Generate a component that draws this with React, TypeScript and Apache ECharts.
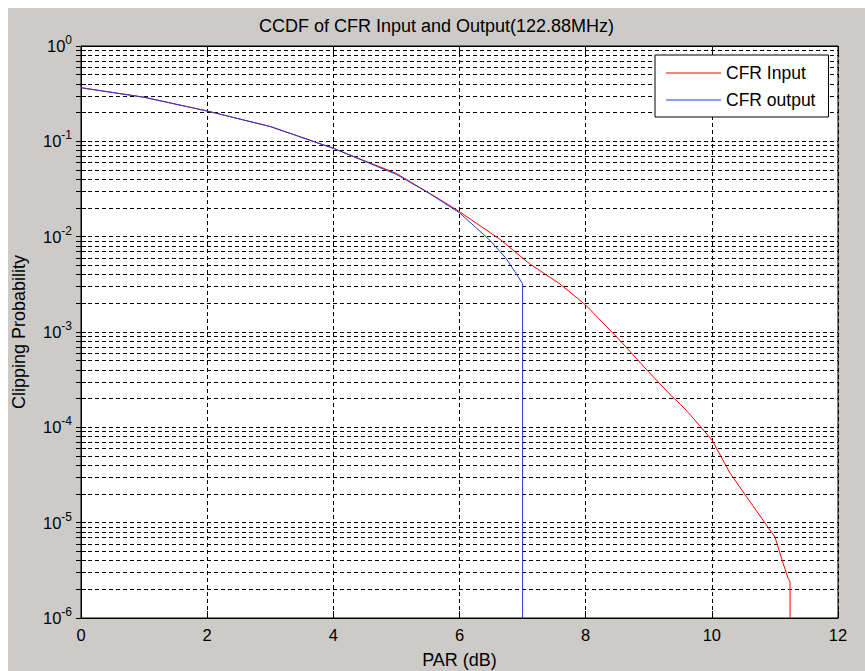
import React, { useEffect, useRef } from "react";
import * as echarts from "echarts";

// PAR (dB) vs clipping probability
const inputPAR = [0, 1, 2, 2.68, 3, 4, 5, 5.69, 6, 6.64, 7.11, 7.59, 8, 8.54, 8.97, 9.34, 9.5, 9.63, 10, 10.29, 10.55, 10.92, 11.0, 11.13, 11.21, 11.24, 11.24];
const inputProb = [0.365, 0.29, 0.208, 0.161, 0.143, 0.0845, 0.046, 0.0245, 0.0183, 0.0094, 0.0052, 0.0032, 0.00192, 8.2e-4, 4.0e-4, 2.2e-4, 1.75e-4, 1.42e-4, 7.4e-5, 3.3e-5, 1.87e-5, 8.4e-6, 7.1e-6, 3.75e-6, 2.6e-6, 2.4e-6, 1e-6];

const outputPAR = [0, 1, 2, 3, 4, 5, 5.5, 6, 6.48, 6.74, 6.93, 7.0, 7.0];
const outputProb = [0.365, 0.29, 0.208, 0.143, 0.0845, 0.045, 0.029, 0.0178, 0.0092, 0.0059, 0.0038, 0.0032, 1e-6];

const seriesNames = ["CFR Input", "CFR output"];
const xTicks = [0, 2, 4, 6, 8, 10, 12];
const yMajor = [1e-6, 1e-5, 1e-4, 1e-3, 1e-2, 1e-1, 1];
const yMinorMultipliers = [2, 3, 4, 5, 6, 7, 8, 9];

const yTickValues: number[] = [];
yMajor.forEach((m, i) => {
  yTickValues.push(m);
  if (i < yMajor.length - 1) yMinorMultipliers.forEach((k) => yTickValues.push(k * m));
});

const FONT = "'Liberation Sans', Arial, sans-serif";
const RED = "#ff0000";
const BLUE = "#1f3fd0";

export default function App() {
  const ref = useRef<HTMLDivElement>(null);
  useEffect(() => {
    const chart = echarts.init(ref.current!, null, { renderer: "svg" });
    const dash = { type: [4, 3] as any, color: "#000", width: 1 };
    const yLabel = {
      customValues: yMajor,
      margin: 9,
      formatter: (v: number) => `{b|10}{s|${Math.round(Math.log10(v))}}`,
      rich: {
        b: { fontSize: 16.5, color: "#000", fontFamily: FONT },
        s: { fontSize: 12, color: "#000", fontFamily: FONT, padding: [0, 0, 12, 0] },
      },
    };
    chart.setOption({
      animation: false,
      backgroundColor: "#cdcbc8",
      textStyle: { fontFamily: FONT },
      title: {
        text: "CCDF of CFR Input and Output(122.88MHz)",
        left: "center",
        top: 4,
        textStyle: { fontSize: 18, fontWeight: "normal", color: "#000", fontFamily: FONT },
      },
      legend: {
        data: [
          { name: seriesNames[0], icon: "rect", itemStyle: { color: RED } },
          { name: seriesNames[1], icon: "rect", itemStyle: { color: BLUE } },
        ],
        orient: "vertical",
        left: 647,
        top: 47,
        padding: [9, 13, 8, 11],
        itemWidth: 55,
        itemHeight: 1,
        itemGap: 9,
        backgroundColor: "#fff",
        borderColor: "#000",
        borderWidth: 1,
        textStyle: { fontSize: 17.5, color: "#000", fontFamily: FONT },
      },
      grid: {
        left: 73,
        top: 38,
        width: 757,
        height: 572,
        outerBoundsMode: "none",
        containLabel: false,
        show: true,
        backgroundColor: "#fff",
        borderColor: "#000",
        borderWidth: 1,
      },
      xAxis: [
        {
          type: "value",
          min: xTicks[0],
          max: xTicks[xTicks.length - 1],
          interval: 2,
          position: "bottom",
          name: "PAR (dB)",
          nameLocation: "middle",
          nameGap: 33,
          nameTextStyle: { fontSize: 18, color: "#000", fontFamily: FONT },
          axisLine: { show: true, lineStyle: { color: "#000", width: 1 } },
          axisTick: { show: true, inside: true, length: 7, lineStyle: { color: "#000" } },
          axisLabel: { fontSize: 16.5, color: "#000", margin: 8, fontFamily: FONT },
          splitLine: { show: true, lineStyle: dash },
        },
        {
          type: "value",
          min: xTicks[0],
          max: xTicks[xTicks.length - 1],
          interval: 2,
          position: "top",
          axisLine: { show: true, lineStyle: { color: "#000", width: 1 } },
          axisTick: { show: true, inside: true, length: 7, lineStyle: { color: "#000" } },
          axisLabel: { show: false },
          splitLine: { show: false },
        },
      ],
      yAxis: [
        {
          type: "log",
          logBase: 10,
          min: yMajor[0],
          max: yMajor[yMajor.length - 1],
          position: "left",
          name: "Clipping Probability",
          nameLocation: "middle",
          nameGap: 53,
          nameTextStyle: { fontSize: 18, color: "#000", fontFamily: FONT },
          axisLine: { show: true, lineStyle: { color: "#000", width: 1 } },
          axisTick: { show: true, inside: true, length: 5, customValues: yTickValues, lineStyle: { color: "#000" } },
          axisLabel: yLabel,
          splitLine: { show: true, lineStyle: dash },
        },
        {
          type: "log",
          logBase: 10,
          min: yMajor[0],
          max: yMajor[yMajor.length - 1],
          position: "right",
          axisLine: { show: true, lineStyle: { color: "#000", width: 1 } },
          axisTick: { show: true, inside: true, length: 5, customValues: yTickValues, lineStyle: { color: "#000" } },
          axisLabel: { show: false },
          splitLine: { show: false },
        },
      ],
      series: [
        {
          name: seriesNames[0],
          type: "line",
          symbol: "none",
          showSymbol: false,
          xAxisIndex: 0,
          yAxisIndex: 0,
          data: inputPAR.map((x, i) => [x, inputProb[i]]),
          lineStyle: { color: RED, width: 1 },
          itemStyle: { color: RED },
          z: 3,
        },
        {
          name: seriesNames[1],
          type: "line",
          symbol: "none",
          showSymbol: false,
          xAxisIndex: 0,
          yAxisIndex: 0,
          data: outputPAR.map((x, i) => [x, outputProb[i]]),
          lineStyle: { color: BLUE, width: 1 },
          itemStyle: { color: BLUE },
          z: 4,
        },
      ],
    });
    return () => chart.dispose();
  }, []);
  return (
    <div
      ref={ref}
      style={{ position: "fixed", left: 8, top: 8, width: 857, height: 663 }}
    />
  );
}
